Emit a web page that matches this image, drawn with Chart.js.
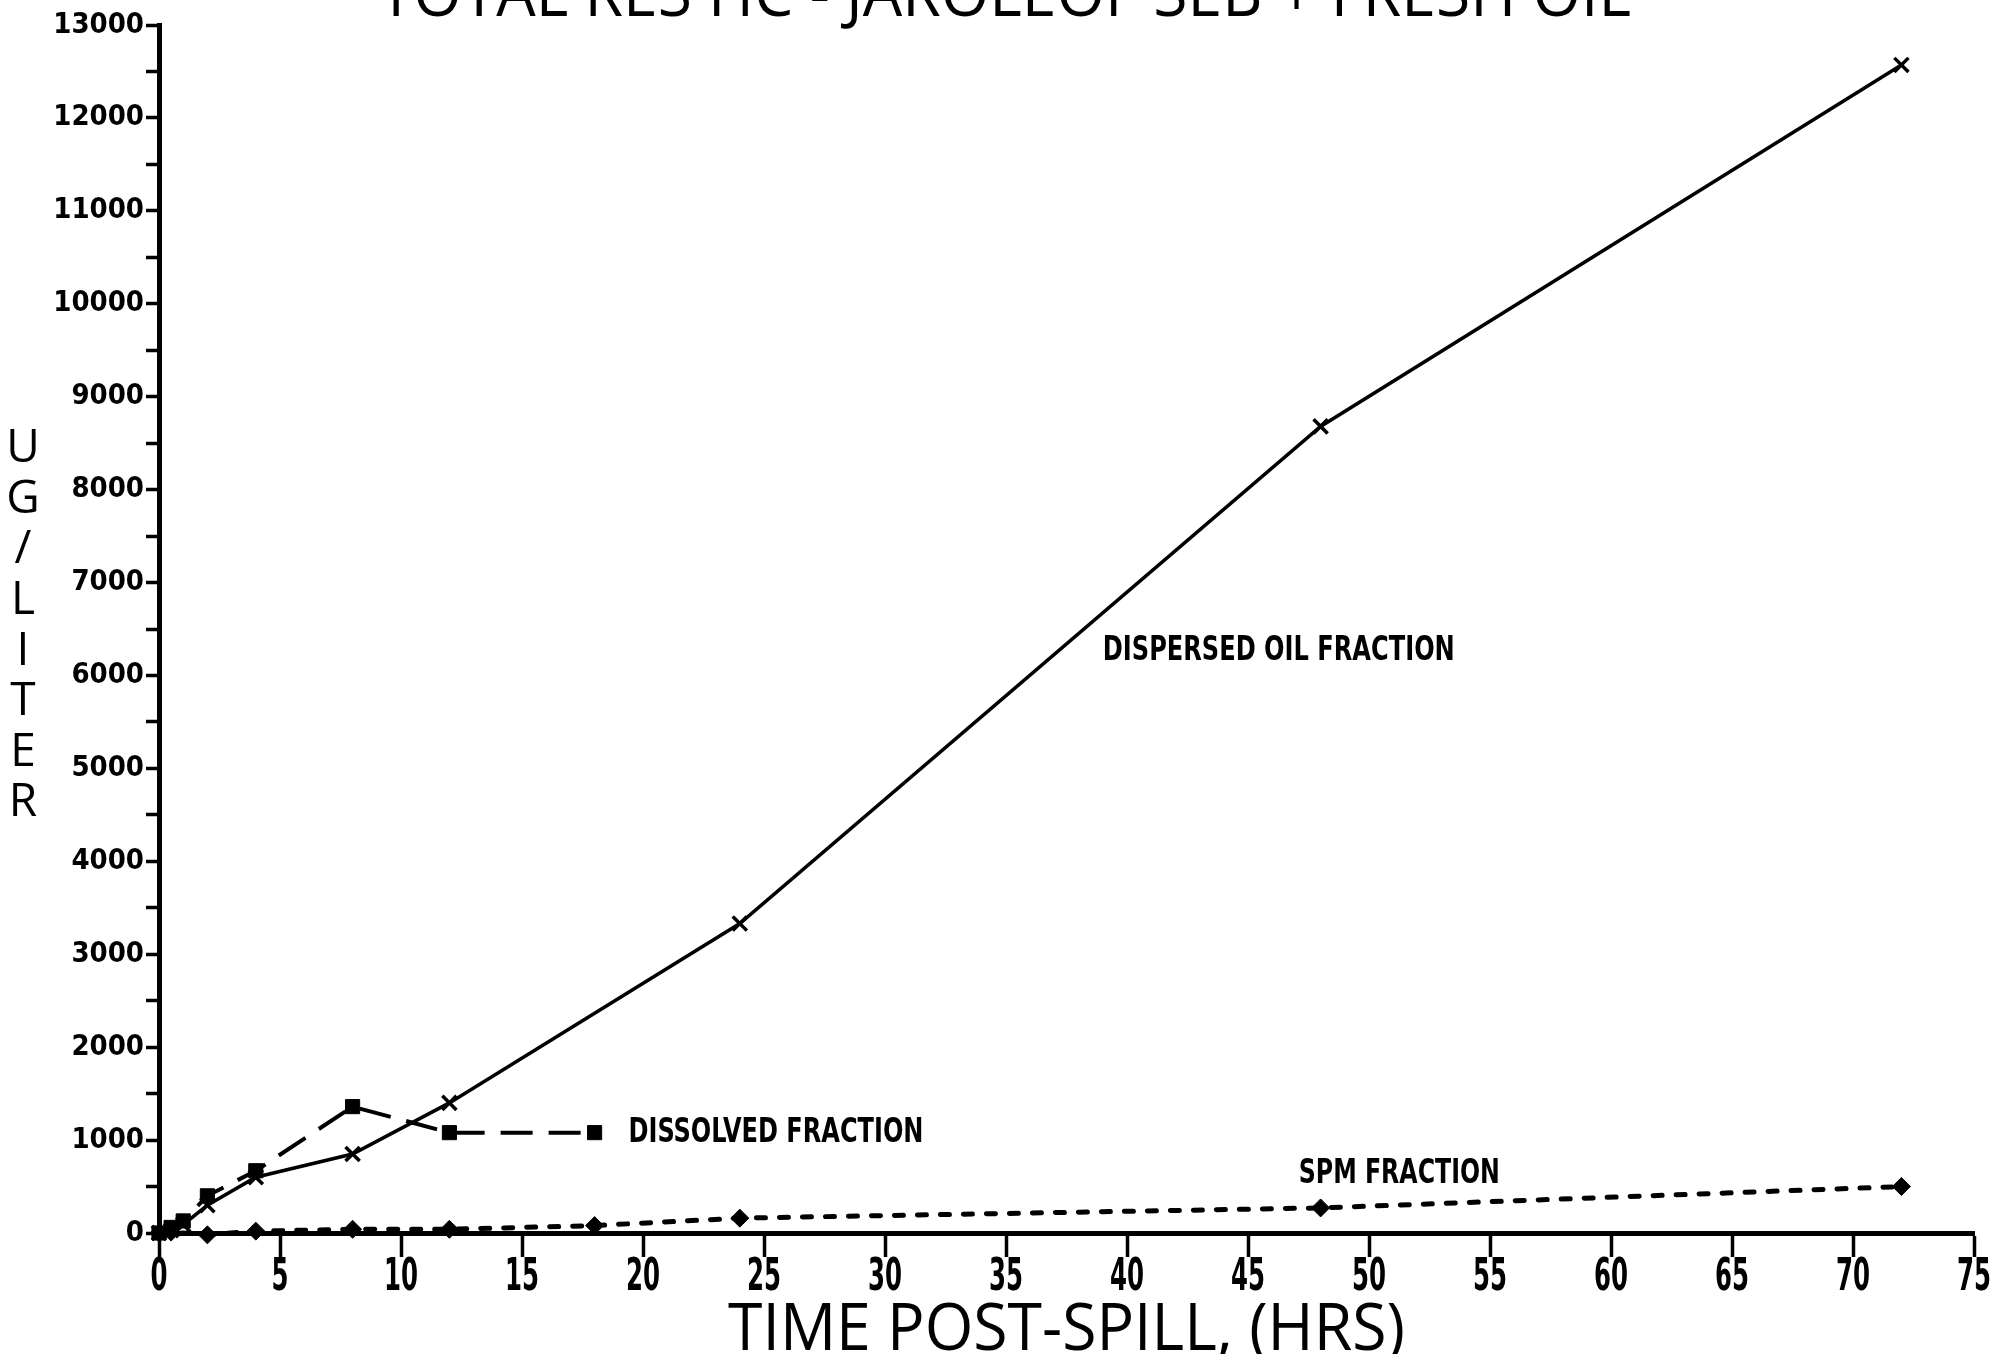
<!DOCTYPE html>
<html>
<head>
<meta charset="utf-8">
<script src="https://cdn.jsdelivr.net/npm/chart.js@4.4.0/dist/chart.umd.min.js"></script>
<style>
html, body { margin: 0; padding: 0; background: #fff; }
</style>
</head>
<body>
<canvas id="grafic" width="1993" height="1354"></canvas>
<script>
// values (hours post-spill, ug/liter)
const dispersed_hours = [0, 0.5, 1, 2, 4, 8, 12, 24, 48, 72];
const dispersed = [0, 30, 90, 300, 600, 850, 1400, 3330, 8680, 12570];
const dissolved_hours = [0, 0.5, 1, 2, 4, 8, 12, 18];
const dissolved = [0, 60, 130, 400, 670, 1360, 1080, 1080];
const spm_hours = [0, 0.5, 2, 4, 8, 12, 18, 24, 48, 72];
const spm = [0, 10, -20, 20, 40, 40, 80, 160, 270, 500];
const x_ticks = [0, 5, 10, 15, 20, 25, 30, 35, 40, 45, 50, 55, 60, 65, 70, 75];
const y_ticks = [0, 1000, 2000, 3000, 4000, 5000, 6000, 7000, 8000, 9000, 10000, 11000, 12000, 13000];

const title_text = "TOTAL RES HC - JAROLEOF SEB + FRESH OIL";
const x_title = "TIME POST-SPILL, (HRS)";
const y_title = "UG/LITER";

function points(xs, ys) {
    return xs.map((x, i) => ({x: x, y: ys[i]}));
}

// draws text squeezed to a given width, like the plotter lettering
function squeezed(ctx, text, x, y, font, width, align) {
    ctx.save();
    ctx.font = font;
    const w = ctx.measureText(text).width;
    const sx = width / w;
    ctx.translate(x, y);
    ctx.scale(sx, 1);
    ctx.textAlign = align;
    ctx.textBaseline = "alphabetic";
    ctx.fillStyle = "#000";
    ctx.fillText(text, 0, 0);
    ctx.restore();
}

const lettering = {
    id: "lettering",
    afterDraw(chart) {
        const ctx = chart.ctx;
        const xs = chart.scales.x;
        const ys = chart.scales.y;
        const thin = '66px "Open Sans", "DejaVu Sans", sans-serif';
        const bold = 'bold 34px "DejaVu Sans Condensed", "DejaVu Sans", sans-serif';

        // title, cut by the top edge of the page
        squeezed(ctx, title_text, 379, 16, thin, 1252, "left");
        // x title
        squeezed(ctx, x_title, (chart.chartArea.left + chart.chartArea.right) / 2, 1350, thin, 677, "center");

        // y title, letters stacked
        ctx.save();
        ctx.font = '46px "Open Sans", "DejaVu Sans", sans-serif';
        ctx.fillStyle = "#000";
        ctx.textAlign = "center";
        ctx.textBaseline = "middle";
        for (let i = 0; i < y_title.length; i++) {
            ctx.fillText(y_title[i], 23, 449 + i * 50.6);
        }
        ctx.restore();

        // x tick labels, narrow plotter digits under the long ticks
        x_ticks.forEach(v => {
            const s = String(v);
            squeezed(ctx, s, xs.getPixelForValue(v), 1290, 'bold 44px "DejaVu Sans", sans-serif', 17 * s.length, "center");
        });

        // series labels
        squeezed(ctx, "DISPERSED OIL FRACTION", xs.getPixelForValue(39), ys.getPixelForValue(6300) + 12, bold, 352, "left");
        squeezed(ctx, "DISSOLVED FRACTION", xs.getPixelForValue(19.4), ys.getPixelForValue(1110) + 12, bold, 295, "left");
        squeezed(ctx, "SPM FRACTION", xs.getPixelForValue(47.1), ys.getPixelForValue(667) + 12, bold, 201, "left");
    }
};

const ctx = document.getElementById("grafic");

const data = {
    datasets: [
        {
            label: "DISPERSED OIL FRACTION",
            data: points(dispersed_hours, dispersed),
            borderColor: "#000",
            backgroundColor: "#000",
            borderWidth: 3.5,
            pointStyle: "crossRot",
            pointRadius: 10,
            pointBorderWidth: 3.5,
            tension: 0,
            clip: false
        },
        {
            label: "DISSOLVED FRACTION",
            data: points(dissolved_hours, dissolved),
            borderColor: "#000",
            backgroundColor: "#000",
            borderWidth: 4,
            borderDash: [32, 16],
            pointStyle: "rect",
            pointRadius: 10,
            pointBorderWidth: 1,
            tension: 0,
            clip: false
        },
        {
            label: "SPM FRACTION",
            data: points(spm_hours, spm),
            borderColor: "#000",
            backgroundColor: "#000",
            borderWidth: 5,
            borderDash: [9, 14],
            borderCapStyle: "round",
            pointStyle: "rectRot",
            pointRadius: 9,
            pointBorderWidth: 1,
            tension: 0,
            clip: false
        }
    ]
};

const config = {
    type: "line",
    data: data,
    plugins: [lettering],
    options: {
        responsive: false,
        animation: false,
        layout: {padding: {top: 25, right: 19, left: 0, bottom: 0}},
        plugins: {
            legend: {display: false},
            tooltip: {enabled: false}
        },
        scales: {
            x: {
                type: "linear",
                min: 0,
                max: 75,
                afterBuildTicks: (scale) => { scale.ticks = x_ticks.map(v => ({value: v})); },
                afterFit: (scale) => { scale.height = 121; },
                grid: {display: true, drawOnChartArea: false, drawTicks: true, tickLength: 24, tickWidth: 3.5, color: "#000"},
                border: {display: true, color: "#000", width: 5},
                ticks: {
                    color: "rgba(0,0,0,0)",
                    padding: 0,
                    maxRotation: 0,
                    autoSkip: false,
                    font: {size: 30}
                }
            },
            y: {
                type: "linear",
                min: 0,
                max: 13000,
                afterBuildTicks: (scale) => {
                    const t = [];
                    for (let v = 0; v <= 13000; v += 500) t.push({value: v});
                    scale.ticks = t;
                },
                afterFit: (scale) => { scale.width = 159; },
                grid: {display: true, drawOnChartArea: false, drawTicks: true, tickLength: 13, tickWidth: 3.5, color: "#000"},
                border: {display: true, color: "#000", width: 5},
                ticks: {
                    color: "#000",
                    padding: 2,
                    autoSkip: false,
                    callback: (v) => (y_ticks.includes(v) ? String(v) : ""),
                    font: {family: '"DejaVu Sans Condensed", "DejaVu Sans", sans-serif', size: 29, weight: "bold"}
                }
            }
        }
    }
};

const grafica = new Chart(ctx, config);
</script>
</body>
</html>
